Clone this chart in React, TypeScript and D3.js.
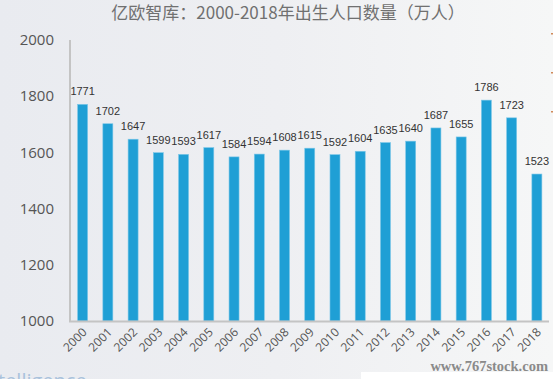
import React from "react";
import * as d3 from "d3";

const years = ["2000","2001","2002","2003","2004","2005","2006","2007","2008","2009","2010","2011","2012","2013","2014","2015","2016","2017","2018"];
const births = [1771,1702,1647,1599,1593,1617,1584,1594,1608,1615,1592,1604,1635,1640,1687,1655,1786,1723,1523];
const yTicks = [1000,1200,1400,1600,1800,2000];
const title = "亿欧智库：2000-2018年出生人口数量（万人）";

export default function App() {
  const W = 553, H = 379;
  const x = d3.scaleBand<string>().domain(years).range([70, 549.5]).padding(0);
  const y = d3.scaleLinear().domain([1000, 2000]).range([321, 40]);
  const bw = 10;
  return (
    <svg width={W} height={H} style={{ position: "fixed", left: 0, top: 0 }} fontFamily="'Open Sans', 'Noto Sans CJK SC', sans-serif">
      <defs>
        <linearGradient id="bg" x1="0" x2="1" y1="0" y2="0">
          <stop offset="0" stopColor="#e9ebf0" />
          <stop offset="0.5" stopColor="#eeeff2" />
          <stop offset="1" stopColor="#f6f7f7" />
        </linearGradient>
      </defs>
      <rect x={0} y={0} width={W} height={H} fill="url(#bg)" />
      <text x={288} y={19} textAnchor="middle" fontSize={17} fill="#707070" fontFamily="'Noto Sans CJK SC', sans-serif">{title}</text>
      {yTicks.map(t => (
        <text key={t} x={54} y={y(t)} dy="0.35em" textAnchor="end" fontSize={15} fill="#555">{t}</text>
      ))}
      {years.map((yr, i) => {
        const cx = x(yr)! + x.bandwidth() / 2;
        return (
          <g key={yr}>
            <rect x={cx - bw / 2} y={y(births[i])} width={bw} height={y(1000) - y(births[i])} fill="#1f9fd5" stroke="#7cc7e8" strokeWidth={0.6} />
            <text x={cx} y={y(births[i]) - 9} textAnchor="middle" fontSize={11} fill="#333" fontFamily="'Liberation Sans', Arial, sans-serif">{births[i]}</text>
            <text transform={`translate(${cx + 5},${333}) rotate(-45)`} textAnchor="end" fontSize={12} fill="#555">{yr}</text>
          </g>
        );
      })}
      <line x1={70} x2={70} y1={40} y2={322} stroke="#c4c4c4" strokeWidth={2} />
      <line x1={69} x2={549} y1={321.5} y2={321.5} stroke="#c4c4c4" strokeWidth={2} />
      <rect x={551} y={33} width={2} height={1.5} fill="#d08a5a" />
      <rect x={551} y={72} width={2} height={1.5} fill="#d08a5a" />
      <rect x={551} y={111} width={2} height={1.5} fill="#d08a5a" />
      <text x={-2} y={388} fontSize={20} fill="#a9c2dc">telligence</text>
      <rect x={361} y={372} width={192} height={7} fill="#ffffff" />
      <text x={548} y={371} textAnchor="end" fontSize={14.5} fontWeight="bold" fill="#8a8a8a" fontFamily="'Liberation Serif', 'DejaVu Serif', serif">www.767stock.com</text>
    </svg>
  );
}
